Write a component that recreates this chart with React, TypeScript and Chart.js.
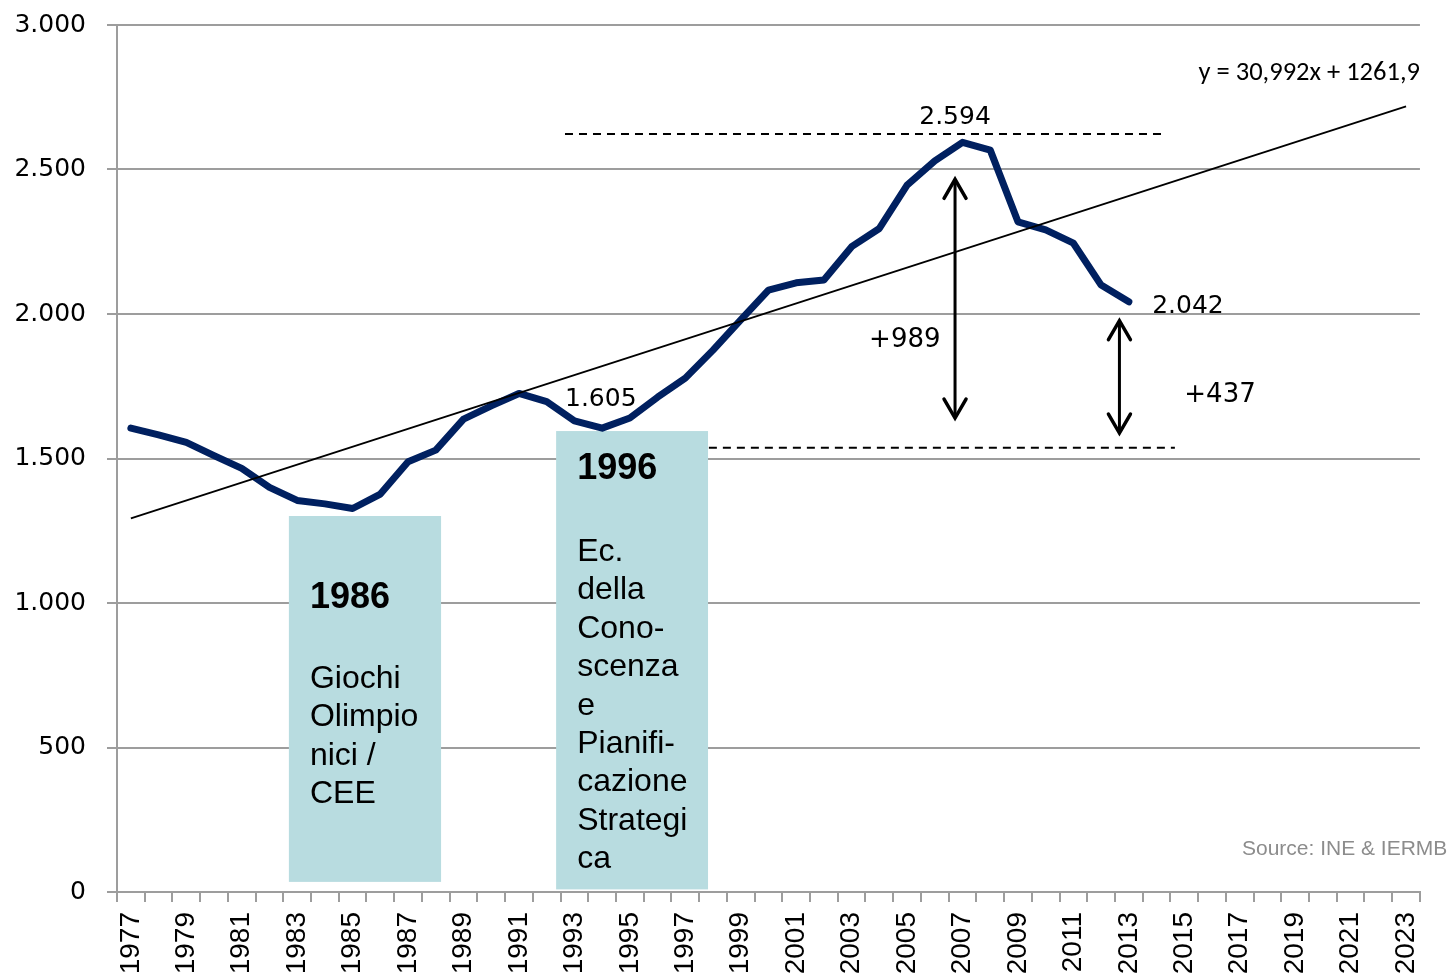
import React, { useEffect, useRef } from 'react';
import { Chart, registerables } from 'chart.js';

Chart.register(...registerables);

// ---- data ----
const YEARS = [
  '1977', '1978', '1979', '1980', '1981', '1982', '1983', '1984', '1985', '1986',
  '1987', '1988', '1989', '1990', '1991', '1992', '1993', '1994', '1995', '1996',
  '1997', '1998', '1999', '2000', '2001', '2002', '2003', '2004', '2005', '2006',
  '2007', '2008', '2009', '2010', '2011', '2012', '2013', '2014', '2015', '2016',
  '2017', '2018', '2019', '2020', '2021', '2022', '2023',
];

// values 1977..2013
const VALUES = [
  1605, 1582, 1556, 1510, 1466, 1400, 1355, 1343, 1327, 1377,
  1489, 1529, 1636, 1682, 1725, 1697, 1630, 1605, 1640, 1712,
  1778, 1875, 1980, 2083, 2108, 2118, 2233, 2296, 2446, 2530,
  2594, 2567, 2319, 2291, 2245, 2100, 2042,
];

// linear trend shown on the chart: y = 30,992x + 1261,9 (x = 1 for 1977)
const TREND_SLOPE = 30.992;
const TREND_INTERCEPT = 1261.9;
const TREND_LABEL = 'y = 30,992x + 1261,9';

const Y_MIN = 0;
const Y_MAX = 3000;
const Y_STEP = 500;

const BOX_1986_TITLE = '1986';
const BOX_1986_LINES = ['Giochi', 'Olimpio', 'nici /', 'CEE'];
const BOX_1996_TITLE = '1996';
const BOX_1996_LINES = ['Ec.', 'della', 'Cono-', 'scenza', 'e', 'Pianifi-', 'cazione', 'Strategi', 'ca'];

const PEAK_LABEL = '2.594';
const LOW_LABEL = '1.605';
const LAST_LABEL = '2.042';
const DIFF_1_LABEL = '+989';
const DIFF_2_LABEL = '+437';
const SOURCE_LABEL = 'Source: INE & IERMB';

const W = 1450;
const H = 977;

const GRID = '#9d9d9d';
const NAVY = '#002060';
const BOX = '#b8dce0';

const fmt = (v: number) =>
  v >= 1000 ? `${Math.floor(v / 1000)}.${String(v % 1000).padStart(3, '0')}` : `${v}`;

const annotations = {
  id: 'annotations',
  beforeDatasetsDraw(chart: any) {
    const { ctx, scales } = chart;
    const xs = scales.x;
    const ys = scales.y;
    const X = (yr: number) => xs.getPixelForValue(yr - 1977);
    const Y = (v: number) => ys.getPixelForValue(v);
    ctx.save();
    ctx.fillStyle = BOX;
    // 1986 box
    ctx.fillRect(X(1982.7), Y(1301), X(1988.19) - X(1982.7), Y(35) - Y(1301));
    // 1996 box
    ctx.fillRect(X(1992.34), Y(1595), X(1997.82) - X(1992.34), Y(9) - Y(1595));

    ctx.fillStyle = '#000';
    ctx.textAlign = 'left';
    ctx.textBaseline = 'alphabetic';
    const LH = 38.4;
    ctx.font = 'bold 36px "Liberation Sans", Arial, sans-serif';
    ctx.fillText(BOX_1986_TITLE, X(1983.46), Y(983));
    ctx.fillText(BOX_1996_TITLE, X(1993.1), Y(1429));
    ctx.font = '32px "Liberation Sans", Arial, sans-serif';
    BOX_1986_LINES.forEach((t, i) => ctx.fillText(t, X(1983.46), Y(706) + i * LH));
    BOX_1996_LINES.forEach((t, i) => ctx.fillText(t, X(1993.1), Y(1145) + i * LH));
    ctx.restore();
  },
  afterDatasetsDraw(chart: any) {
    const { ctx, scales } = chart;
    const xs = scales.x;
    const ys = scales.y;
    const X = (yr: number) => xs.getPixelForValue(yr - 1977);
    const Y = (v: number) => ys.getPixelForValue(v);
    ctx.save();
    // dashed reference lines
    ctx.strokeStyle = '#000';
    ctx.lineWidth = 2;
    ctx.setLineDash([8, 6]);
    ctx.beginPath();
    ctx.moveTo(X(1992.66), Y(2623));
    ctx.lineTo(X(2014.19), Y(2623));
    ctx.moveTo(X(1997.85), Y(1537));
    ctx.lineTo(X(2014.66), Y(1537));
    ctx.stroke();
    ctx.setLineDash([]);

    // double arrows
    const arrow = (x: number, y1: number, y2: number) => {
      ctx.lineWidth = 3;
      ctx.lineCap = 'round';
      ctx.lineJoin = 'miter';
      ctx.beginPath();
      ctx.moveTo(x, y1 + 1);
      ctx.lineTo(x, y2 - 1);
      ctx.stroke();
      const hw = 11;
      const hh = 19;
      ctx.lineWidth = 3.5;
      ctx.beginPath();
      ctx.moveTo(x - hw, y1 + hh);
      ctx.lineTo(x, y1);
      ctx.lineTo(x + hw, y1 + hh);
      ctx.moveTo(x - hw, y2 - hh);
      ctx.lineTo(x, y2);
      ctx.lineTo(x + hw, y2 - hh);
      ctx.stroke();
    };
    arrow(X(2006.73), Y(2466), Y(1640));
    arrow(X(2012.66), Y(1977), Y(1588));

    // value labels
    ctx.fillStyle = '#000';
    ctx.textBaseline = 'alphabetic';
    ctx.font = '25px "DejaVu Sans", Verdana, sans-serif';
    ctx.textAlign = 'center';
    ctx.fillText(PEAK_LABEL, X(2006.73), Y(2657));
    ctx.textAlign = 'left';
    ctx.fillText(LOW_LABEL, X(1992.66), Y(1682));
    ctx.fillText(LAST_LABEL, X(2013.84), Y(2003));
    ctx.font = '26px "DejaVu Sans", Verdana, sans-serif';
    ctx.fillText(DIFF_1_LABEL, X(2003.63), Y(1887));
    ctx.fillText(DIFF_2_LABEL, X(2015.0), Y(1697));

    // trend equation
    ctx.font = '26.5px Carlito, Lato, sans-serif';
    ctx.textAlign = 'right';
    ctx.fillText(TREND_LABEL, X(2023.5), Y(2810));

    // source
    ctx.font = '21px "Liberation Sans", Arial, sans-serif';
    ctx.fillStyle = '#8c8c8c';
    ctx.textAlign = 'left';
    ctx.fillText(SOURCE_LABEL, X(2017.08), Y(128));
    ctx.restore();
  },
};

export default function App() {
  const ref = useRef<HTMLCanvasElement | null>(null);

  useEffect(() => {
    document.body.style.margin = '0';
    const canvas = ref.current;
    if (!canvas) return;
    const series = YEARS.map((_, i) => (i < VALUES.length ? VALUES[i] : null));
    const last = YEARS.length - 1;
    const trend = YEARS.map((_, i) =>
      i === 0 || i === last ? TREND_SLOPE * (i + 1) + TREND_INTERCEPT : null,
    );
    const chart = new Chart(canvas, {
      type: 'line',
      data: {
        labels: YEARS,
        datasets: [
          {
            label: 'Trend',
            data: trend,
            borderColor: '#000',
            borderWidth: 1.8,
            pointRadius: 0,
            spanGaps: true,
            tension: 0,
          },
          {
            label: 'Values',
            data: series,
            borderColor: NAVY,
            borderWidth: 7,
            pointRadius: 0,
            tension: 0,
            borderJoinStyle: 'round',
            borderCapStyle: 'round',
            spanGaps: false,
          },
        ],
      },
      options: {
        responsive: false,
        animation: false,
        devicePixelRatio: 1,
        layout: { padding: { top: 25, right: 30, left: 0, bottom: 0 } },
        plugins: {
          legend: { display: false },
          tooltip: { enabled: false },
        },
        scales: {
          x: {
            type: 'category',
            offset: true,
            grid: {
              offset: true,
              drawOnChartArea: false,
              drawTicks: true,
              tickLength: 10,
              color: GRID,
              lineWidth: 2,
            },
            border: { color: GRID, width: 2 },
            ticks: {
              autoSkip: false,
              minRotation: 90,
              maxRotation: 90,
              padding: 10,
              color: '#000',
              font: { family: '"Liberation Sans", Arial, sans-serif', size: 28 },
              callback: (_v: any, i: number) => (i % 2 === 0 ? YEARS[i] : ''),
            },
            afterFit: (s: any) => {
              s.height = 85;
            },
          },
          y: {
            min: Y_MIN,
            max: Y_MAX,
            grid: { color: GRID, lineWidth: 2, tickLength: 10 },
            border: { color: GRID, width: 2 },
            ticks: {
              stepSize: Y_STEP,
              padding: 21,
              color: '#000',
              font: { family: '"DejaVu Sans", Verdana, sans-serif', size: 25 },
              callback: (v: any) => fmt(Number(v)),
            },
            afterFit: (s: any) => {
              s.width = 117;
              s.paddingTop = 12;
              s.paddingBottom = 0;
            },
          },
        },
      },
      plugins: [annotations],
    });
    return () => chart.destroy();
  }, []);

  return (
    <div style={{ position: 'fixed', left: 0, top: 0, width: W, height: H, overflow: 'hidden', background: '#fff' }}>
      <canvas ref={ref} width={W} height={H} style={{ display: 'block', width: W, height: H }} />
    </div>
  );
}
